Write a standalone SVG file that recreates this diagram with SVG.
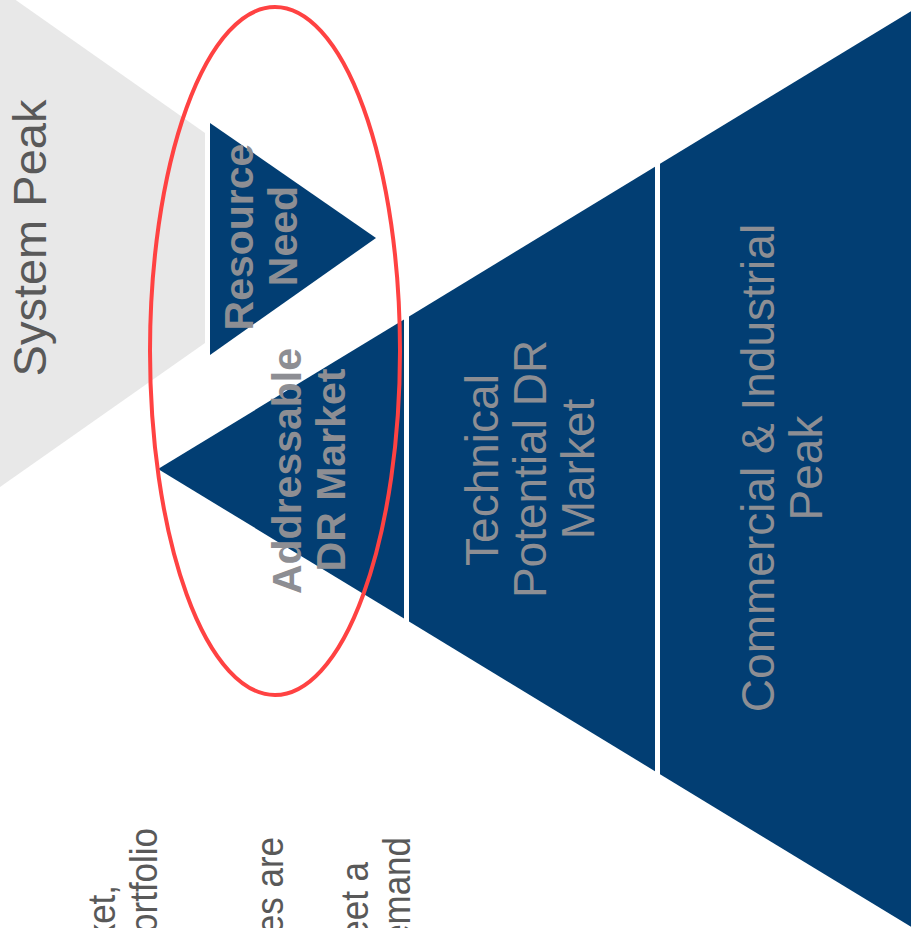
<svg xmlns="http://www.w3.org/2000/svg" width="911" height="928" viewBox="0 0 911 928">
<style>
.blue{fill:#023E73}
.lbl{font-family:"Liberation Sans",Arial,sans-serif;fill:#8D8E93;text-anchor:middle}
.b{font-weight:bold;font-size:41px}
.r{font-size:46px}
.dark{font-family:"Liberation Sans",Arial,sans-serif;fill:#595959}
</style>
<rect width="911" height="928" fill="#FFFFFF"/>
<g id="system-peak">
<polygon points="0,-11 205,133 205,343 0,487" fill="#E8E8E8"/>
<text class="dark" font-size="47" text-anchor="middle" transform="translate(46,238) rotate(-90)">System Peak</text>
</g>
<g id="resource-need">
<polygon class="blue" points="210,123 376,238 210,355"/>
<text class="lbl b" transform="translate(253,237) rotate(-90)">Resource</text>
<text class="lbl b" transform="translate(297,236) rotate(-90)">Need</text>
</g>
<g id="addressable">
<polygon class="blue" points="158,469 404,319.4 404,618.6"/>
<text class="lbl b" transform="translate(301,471) rotate(-90)">Addressable</text>
<text class="lbl b" transform="translate(345,470) rotate(-90)">DR Market</text>
</g>
<g id="technical">
<polygon class="blue" points="409,316.4 655,166.8 655,771.2 409,621.6"/>
<text class="lbl r" transform="translate(498,470) rotate(-90)">Technical</text>
<text class="lbl r" transform="translate(546,469) rotate(-90)">Potential DR</text>
<text class="lbl r" transform="translate(594,469) rotate(-90)">Market</text>
</g>
<g id="commercial">
<polygon class="blue" points="660,163.8 911,11.2 911,926.8 660,774.2"/>
<text class="lbl r" transform="translate(774,468) rotate(-90)">Commercial &amp; Industrial</text>
<text class="lbl r" transform="translate(822,468) rotate(-90)">Peak</text>
</g>
<g id="notes" class="dark" font-size="38" text-anchor="end">
<text transform="translate(115,885) rotate(-90) scale(0.92,1)">ket,</text>
<text transform="translate(157,828) rotate(-90) scale(0.92,1)">ortfolio</text>
<text transform="translate(283,837) rotate(-90) scale(0.92,1)">es are</text>
<text transform="translate(368,862) rotate(-90) scale(0.92,1)">eet a</text>
<text transform="translate(410,837) rotate(-90) scale(0.92,1)">emand</text>
</g>
<g id="highlight">
<ellipse cx="275" cy="351" rx="125" ry="344" fill="none" stroke="#FF4242" stroke-width="4"/>
</g>
<g id="connectors"/>
</svg>
